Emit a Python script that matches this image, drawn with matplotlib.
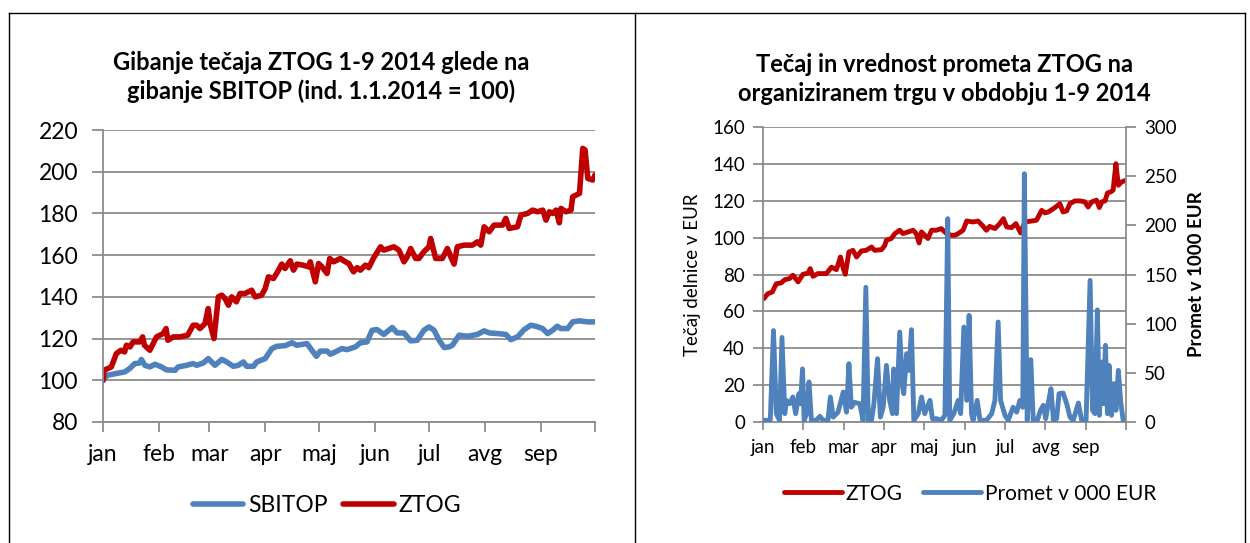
import matplotlib
matplotlib.use("Agg")
import matplotlib.pyplot as plt
from matplotlib.lines import Line2D

plt.rcParams['font.family'] = ['Lato', 'DejaVu Sans']

RED = '#C00000'
BLUE = '#4F81BD'
GRID = '#8C8C8C'

months = ['jan', 'feb', 'mar', 'apr', 'maj', 'jun', 'jul', 'avg', 'sep']
month_start_day = [0, 31, 59, 90, 120, 151, 181, 212, 243, 273]

# left chart: index 1.1.2014 = 100, x in days since 1 Jan
ztog_day = [0, 0.6, 4.6, 7.4, 10, 12, 13, 15, 16.7, 20.4, 22, 23, 26, 29.7, 33.4, 35, 36, 39,
            42.6, 47, 50, 52, 53.8, 56.6, 58.4, 59.4, 61.6, 64, 65.9, 67.7, 69.6, 71.4, 74, 76,
            78.8, 82.5, 84.4, 88, 90, 91.8, 94.6, 97.4, 99.2, 101, 103.9, 105.7, 107.6, 111, 114,
            115, 117.8, 119.6, 121.5, 124.3, 125.8, 128, 131.7, 134.5, 136.4, 139, 141, 142.8,
            145.6, 147.5, 150, 154, 155.8, 161.4, 164.2, 167, 168.8, 170.7, 173.5, 175.3, 178,
            180.9, 181.8, 184.6, 188.3, 191.1, 193, 194.8, 196.6, 200.3, 205, 207.8, 209.6, 211.5,
            214.3, 217, 221.7, 223.5, 225.4, 230, 231.9, 235.6, 238.4, 241.2, 244, 245.8, 247.7,
            249.5, 251.4, 253.2, 254.1, 256.9, 259.7, 260.6, 262.5, 264.4, 266.2, 267.5, 269,
            271.7, 273]
ztog_idx = [100, 104.8, 106.4, 112.8, 114.4, 113.6, 116.8, 116, 118.4, 118.4, 120.8, 116.8,
            114.4, 120.8, 122.4, 124.8, 119.2, 120.8, 120.8, 121.6, 126.4, 126.4, 124.8, 127.2,
            134.4, 127.2, 120, 140, 140.8, 139.2, 136, 140, 137.6, 141.6, 141.6, 143.2, 140,
            140.8, 144, 149.6, 148.8, 152.8, 155.7, 153.6, 157.3, 152.8, 155.7, 155.2, 154.4,
            156.8, 147.2, 156, 154.4, 151.2, 158.4, 156.8, 158.4, 156.8, 156, 152, 154, 152.8,
            155.2, 154, 158.4, 164, 162.4, 164, 162.4, 156.8, 159.2, 163.2, 158.4, 158.4, 161.6,
            164, 168, 158.4, 158.4, 163.2, 159.2, 155.7, 164, 164.8, 164.8, 166.4, 164.8, 173.6,
            171.2, 174.4, 174.4, 177.6, 172.8, 173.6, 179.2, 180, 181.6, 180.8, 181.6, 176.8,
            180.8, 180, 181.6, 175.5, 182.4, 180.8, 181.6, 188, 188.8, 189.6, 211.2, 210.4,
            196.8, 196, 198.4]

sbitop_day = [0, 2.4, 7, 12, 14.8, 17.6, 20.4, 21.3, 23.2, 26, 28.8, 32.5, 35.2, 40, 41.7,
              46.4, 50, 52, 55.7, 58.4, 62.1, 65.9, 68.6, 72.3, 75.1, 77.9, 79.7, 83.5, 85.3,
              90, 93.7, 96.5, 101.1, 104.8, 107.6, 113.2, 115.9, 118.4, 120.6, 124.3, 126.2,
              129.8, 132.6, 135.4, 140, 142.8, 146.5, 149.3, 152.1, 155.8, 160.5, 163.2, 167,
              170.7, 174.4, 178.1, 180.9, 183.7, 186.5, 189.3, 192, 193.9, 197.6, 202.3, 207.8,
              211.5, 214.3, 218.9, 223.5, 226.3, 230, 233.7, 237.4, 240.2, 243.9, 246.7, 249.5,
              252, 254.1, 257.8, 260.6, 264.3, 269, 273]
sbitop_idx = [100, 102.4, 103.2, 104, 105.6, 108, 108.3, 110, 107.2, 106.4, 107.7, 106.4, 105,
              104.8, 106.4, 107.2, 108, 107.2, 108.3, 110.4, 107.2, 110, 108.8, 106.7, 107.2,
              108.8, 106.7, 106.7, 108.8, 110.4, 115.2, 116.3, 116.6, 118, 116.8, 117.6, 114.4,
              111.5, 114, 114, 112.5, 114, 115.2, 114.7, 116, 118, 118.4, 124, 124.3, 122,
              125.3, 122.7, 122.7, 118.9, 119.2, 124, 125.6, 124, 119.2, 115.7, 116, 116.8,
              121.6, 121.1, 122, 123.7, 122.7, 122.4, 122, 119.5, 120.8, 124.3, 126.4, 125.9,
              124.8, 122.4, 124, 125.9, 124.8, 124.8, 128, 128.5, 128, 128]

# right chart: x in month units (category axis, months evenly spaced)
price_pos = [0.02, 0.12, 0.23, 0.33, 0.45, 0.54, 0.66, 0.74, 0.87, 0.99, 1.12, 1.17, 1.24,
             1.36, 1.57, 1.70, 1.82, 1.92, 1.99, 2.04, 2.13, 2.23, 2.32, 2.44, 2.56, 2.69,
             2.77, 2.94, 3.02, 3.06, 3.18, 3.27, 3.39, 3.47, 3.60, 3.72, 3.80, 3.87, 3.93,
             4.01, 4.09, 4.18, 4.30, 4.42, 4.55, 4.67, 4.76, 4.84, 4.96, 5.05, 5.21, 5.33,
             5.46, 5.54, 5.62, 5.75, 5.87, 5.96, 6.04, 6.16, 6.27, 6.39, 6.49, 6.66, 6.78,
             6.91, 6.99, 7.07, 7.20, 7.28, 7.36, 7.44, 7.53, 7.61, 7.73, 7.86, 7.98, 8.06,
             8.15, 8.27, 8.34, 8.40, 8.48, 8.54, 8.62, 8.68, 8.75, 8.81, 8.89, 9.0]
price_eur = [66.9, 69.6, 70.5, 75, 75.4, 77.2, 77.8, 79.6, 76, 80.1, 80.8, 83.2, 79, 80.5,
             80.5, 84, 82.6, 89.5, 83.2, 80.1, 92.2, 93.1, 89.5, 92.8, 93.1, 94.9, 93.1, 93.5,
             95.8, 98.6, 99.5, 102.2, 104, 102.2, 103.1, 104, 102.2, 97.1, 103.1, 101.3, 99.5,
             104, 104, 104.9, 102.2, 101.3, 101.3, 102.2, 104, 109, 108.5, 109, 106.1, 104,
             106.1, 104.9, 107.6, 110.3, 105.8, 105.4, 107.6, 102.5, 108.5, 109, 109.4, 114.8,
             113.4, 113.9, 115.7, 117, 118.4, 113.9, 114.5, 118.4, 119.9, 119.9, 119.4, 116.6,
             119.4, 120.3, 116.3, 119.4, 119.9, 124.2, 124.8, 125.7, 140.1, 128.4, 130.2, 131.1]

promet_pos = [0.02, 0.18, 0.26, 0.33, 0.41, 0.47, 0.54, 0.58, 0.66, 0.74, 0.81, 0.89, 0.93,
              0.98, 1.02, 1.08, 1.14, 1.20, 1.32, 1.41, 1.49, 1.61, 1.67, 1.74, 1.86, 1.99,
              2.07, 2.13, 2.19, 2.27, 2.40, 2.48, 2.55, 2.61, 2.69, 2.75, 2.84, 2.91, 2.98,
              3.06, 3.14, 3.21, 3.24, 3.31, 3.39, 3.46, 3.49, 3.56, 3.62, 3.68, 3.74, 3.85,
              3.93, 4.01, 4.14, 4.20, 4.30, 4.42, 4.51, 4.58, 4.63, 4.73, 4.84, 4.90, 4.98,
              5.05, 5.11, 5.17, 5.21, 5.31, 5.38, 5.54, 5.67, 5.75, 5.83, 5.89, 6.00, 6.08,
              6.20, 6.29, 6.37, 6.44, 6.48, 6.55, 6.64, 6.70, 6.80, 6.88, 6.95, 7.01, 7.07,
              7.14, 7.20, 7.28, 7.34, 7.44, 7.53, 7.61, 7.69, 7.82, 7.90, 8.01, 8.11, 8.17,
              8.23, 8.29, 8.34, 8.40, 8.44, 8.49, 8.54, 8.58, 8.64, 8.70, 8.75, 8.81, 8.87,
              8.93, 9.0]
promet_k = [1.7, 1.7, 93, 8.5, 1.7, 86, 8.5, 22, 18.6, 25.4, 8.5, 28.8, 18.6, 54, 1.7, 8.5,
            40.7, 1.7, 1.7, 5.8, 1.7, 1.7, 25.4, 5, 10, 30.5, 10, 59.3, 15, 20, 18.6, 1.7, 137,
            1.7, 1.7, 18.6, 64.4, 5, 15, 57.6, 22, 8.5, 54, 8.5, 91.5, 35.6, 28.8, 69.5, 52.5,
            93.9, 1.7, 8.5, 25.4, 8.5, 22, 3.4, 3.4, 1.7, 6.8, 206.8, 1.7, 8.5, 22, 8.5, 96.6,
            22, 108.5, 8.5, 1.7, 22, 1.7, 1.7, 8.5, 22, 101.7, 22, 6.8, 1.7, 15, 10, 22, 15,
            252.5, 1.7, 63.4, 1.7, 1.7, 11.9, 17, 3.4, 18.6, 33.9, 1.7, 3.4, 28.8, 29.5, 18.6,
            5, 1.7, 19.3, 1.7, 1.7, 144, 11.9, 8.5, 114, 6.8, 61, 18.6, 78, 8.5, 57.6, 6.8, 39,
            11.9, 52.5, 20, 1.7, 1.7]

W, H = 1250, 543
fig = plt.figure(figsize=(W / 100, H / 100), dpi=100)


def fx(px):
    return px / W


def fy(py):
    return 1 - py / H


# outer frame and divider
for xs, ys in [((9, 1245), (13, 13)), ((9, 9), (13, 543)), ((635, 635), (13, 543)),
               ((1245, 1245), (13, 543))]:
    fig.add_artist(Line2D([fx(x) for x in xs], [fy(y) for y in ys], color='black', lw=1.0))


def style_axis(ax):
    for s in ['top', 'right']:
        ax.spines[s].set_visible(False)
    ax.spines['left'].set_color(GRID)
    ax.spines['bottom'].set_color(GRID)
    ax.spines['left'].set_linewidth(1.3)
    ax.spines['bottom'].set_linewidth(1.3)
    ax.yaxis.grid(True, color=GRID, lw=1.3)
    ax.set_axisbelow(True)


# ---- left chart
ax1 = fig.add_axes([fx(103), fy(422), fx(595 - 103), fy(130) - fy(422)])
style_axis(ax1)
ax1.plot(sbitop_day, sbitop_idx, color=BLUE, lw=4.0, solid_joinstyle='round',
         solid_capstyle='round', label='SBITOP')
ax1.plot(ztog_day, ztog_idx, color=RED, lw=4.0, solid_joinstyle='round',
         solid_capstyle='round', label='ZTOG')
ax1.set_xlim(0, 273)
ax1.set_ylim(80, 220)
ax1.set_yticks(range(80, 221, 20))
ax1.set_xticks(month_start_day)
ax1.set_xticklabels(months + [''])
ax1.tick_params(axis='y', labelsize=16.5, length=8, width=1.3, color=GRID, pad=10)
ax1.tick_params(axis='x', labelsize=16.5, length=7, width=1.3, color=GRID, pad=9)
ax1.set_title('Gibanje tečaja ZTOG 1-9 2014 glede na\ngibanje SBITOP (ind. 1.1.2014 = 100)',
              fontsize=17, fontweight='bold', pad=22, linespacing=1.3, x=0.443)
ax1.legend(loc='upper center', bbox_to_anchor=(0.455, -0.18), ncol=2, frameon=False,
           fontsize=16.5, handlelength=2.2, handletextpad=0.2, columnspacing=0.7)

# ---- right chart
ax2 = fig.add_axes([fx(763), fy(422), fx(1126 - 763), fy(127) - fy(422)])
style_axis(ax2)
l1, = ax2.plot(price_pos, price_eur, color=RED, lw=3.5, solid_joinstyle='round',
               solid_capstyle='round', label='ZTOG')
ax2.set_xlim(0, 9)
ax2.set_ylim(0, 160)
ax2.set_yticks(range(0, 161, 20))
ax2.set_xticks(range(10))
ax2.set_xticklabels(months + [''])
ax2.tick_params(axis='y', labelsize=13.5, length=7, width=1.3, color=GRID, pad=6)
ax2.tick_params(axis='x', labelsize=13.5, length=6, width=1.3, color=GRID, pad=6)
ax2.set_ylabel('Tečaj delnice v EUR', fontsize=13.5, labelpad=8)

ax3 = ax2.twinx()
for s in ['top', 'left', 'bottom']:
    ax3.spines[s].set_visible(False)
ax3.spines['right'].set_color(GRID)
ax3.spines['right'].set_linewidth(1.3)
l2, = ax3.plot(promet_pos, promet_k, color=BLUE, lw=3.5, solid_joinstyle='round',
               solid_capstyle='round', label='Promet v 000 EUR')
ax3.set_ylim(0, 300)
ax3.set_yticks(range(0, 301, 50))
ax3.tick_params(axis='y', labelsize=13.5, length=7, width=1.3, color=GRID, pad=6)
ax3.set_ylabel('Promet v 1000 EUR', fontsize=13.5, fontweight='bold', labelpad=8)

ax2.set_title('Tečaj in vrednost prometa ZTOG na\norganiziranem trgu v obdobju 1-9 2014',
              fontsize=17, fontweight='bold', pad=19, linespacing=1.3)
ax2.legend([l1, l2], ['ZTOG', 'Promet v 000 EUR'], loc='upper center',
           bbox_to_anchor=(0.57, -0.145), ncol=2, frameon=False, fontsize=15,
           handlelength=2.8, handletextpad=0.15, columnspacing=1.0)

fig.savefig('out.png', dpi=100)
